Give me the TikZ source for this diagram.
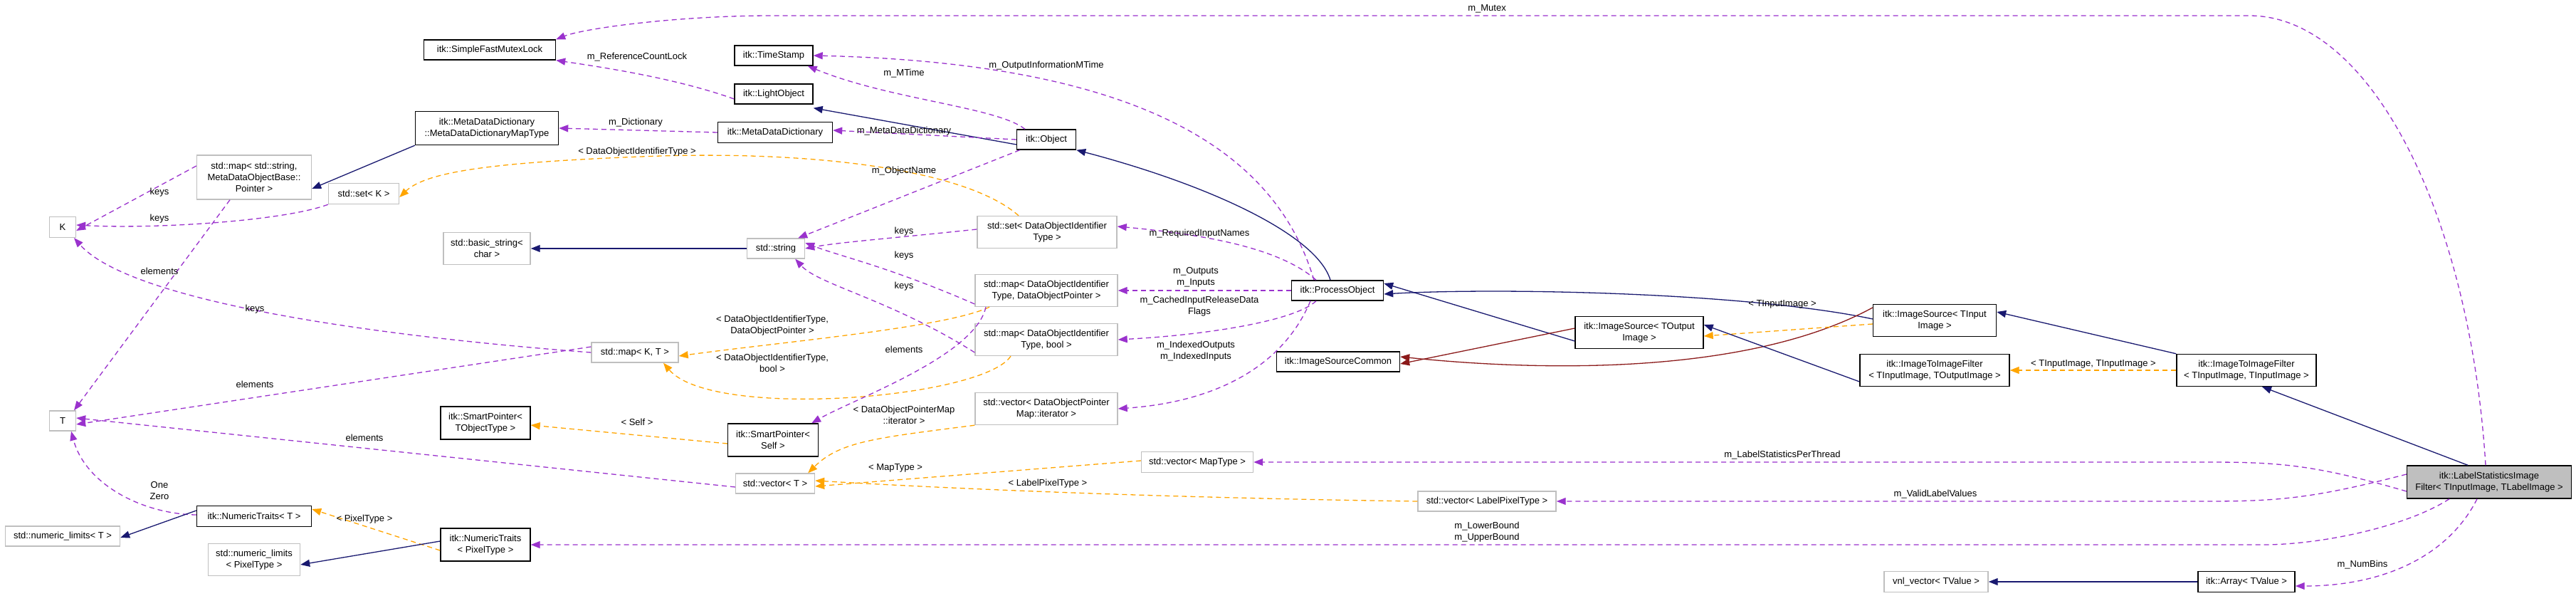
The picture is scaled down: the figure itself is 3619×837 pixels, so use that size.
\documentclass[tikz,border=0pt]{standalone}
\usepackage{fontspec}
\setmainfont{Liberation Sans}
\usetikzlibrary{arrows.meta}
\definecolor{usec}{HTML}{9A32CD}
\definecolor{tmplc}{HTML}{FFA500}
\definecolor{inhc}{HTML}{191970}
\definecolor{protc}{HTML}{8B1A1A}
\definecolor{extc}{HTML}{BFBFBF}
\definecolor{lsfill}{HTML}{BFBFBF}
\begin{document}
\begin{tikzpicture}[x=1pt,y=-1pt,
  base/.style={rectangle,align=center,inner xsep=4pt,inner ysep=2pt,font=\fontsize{13}{16}\selectfont,line width=1.4pt},
  cls/.style={base,draw=black},
  ext/.style={base,draw=extc},
  W/.style 2 args={minimum width=#1pt,minimum height=#2pt},
  lbl/.style={font=\fontsize{13}{16}\selectfont,align=center,inner sep=0pt},
  tip/.style={-{Triangle[length=13pt,width=10pt]}},
  use/.style={tip,draw=usec,line width=1.3pt,dash pattern=on 7pt off 5pt},
  tmpl/.style={tip,draw=tmplc,line width=1.3pt,dash pattern=on 7pt off 5pt},
  inh/.style={tip,draw=inhc,line width=1.3pt},
  prot/.style={tip,draw=protc,line width=1.3pt}]
\useasboundingbox (0,0) rectangle (3619,837);
\fill[white] (0,0) rectangle (3619,837);
% nodes
\node[cls,W={185}{28}] (sfml) at (688,70) {itk::SimpleFastMutexLock};
\node[cls,W={110}{28}] (ts) at (1087,78) {itk::TimeStamp};
\node[cls,W={110}{28}] (lo) at (1087,132) {itk::LightObject};
\node[cls,W={201}{47}] (mdmt) at (684,180) {itk::MetaDataDictionary\\::MetaDataDictionaryMapType};
\node[cls,W={161}{29}] (mdd) at (1089,186) {itk::MetaDataDictionary};
\node[cls,W={83}{28}] (obj) at (1470,196) {itk::Object};
\node[ext,W={161}{62}] (mapstr) at (357,249) {std::map\textless{} std::string,\\MetaDataObjectBase::\\Pointer \textgreater{}};
\node[ext,W={99}{29}] (setk) at (511,272) {std::set\textless{} K \textgreater{}};
\node[ext,W={37}{29}] (k) at (88,319) {K};
\node[ext,W={122}{45}] (bstr) at (684,349) {std::basic\_string\textless{}\\char \textgreater{}};
\node[ext,W={81}{28}] (str) at (1090,349) {std::string};
\node[ext,W={196}{45}] (setd) at (1471,326) {std::set\textless{} DataObjectIdentifier\\Type \textgreater{}};
\node[ext,W={200}{45}] (mapdp) at (1470,408) {std::map\textless{} DataObjectIdentifier\\Type, DataObjectPointer \textgreater{}};
\node[cls,W={129}{28}] (po) at (1879,408) {itk::ProcessObject};
\node[ext,W={200}{45}] (mapdb) at (1470,477) {std::map\textless{} DataObjectIdentifier\\Type, bool \textgreater{}};
\node[ext,W={122}{28}] (mapkt) at (892,495) {std::map\textless{} K, T \textgreater{}};
\node[cls,W={173}{28}] (isc) at (1880,508) {itk::ImageSourceCommon};
\node[cls,W={180}{45}] (iso) at (2303,467) {itk::ImageSource\textless{} TOutput\\Image \textgreater{}};
\node[cls,W={173}{45}] (isi) at (2718,450) {itk::ImageSource\textless{} TInput\\Image \textgreater{}};
\node[cls,W={210}{45}] (i2io) at (2718,520) {itk::ImageToImageFilter\\\textless{} TInputImage, TOutputImage \textgreater{}};
\node[cls,W={196}{45}] (i2ii) at (3156,520) {itk::ImageToImageFilter\\\textless{} TInputImage, TInputImage \textgreater{}};
\node[ext,W={37}{28}] (t) at (88,591) {T};
\node[cls,W={126}{46}] (spto) at (682,594) {itk::SmartPointer\textless{}\\TObjectType \textgreater{}};
\node[cls,W={127}{46}] (spself) at (1086,618) {itk::SmartPointer\textless{}\\Self \textgreater{}};
\node[ext,W={200}{45}] (vecdop) at (1470,574) {std::vector\textless{} DataObjectPointer\\Map::iterator \textgreater{}};
\node[ext,W={111}{28}] (vect) at (1089,679) {std::vector\textless{} T \textgreater{}};
\node[ext,W={157}{29}] (vecmt) at (1682,649) {std::vector\textless{} MapType \textgreater{}};
\node[ext,W={194}{28}] (veclpt) at (2089,704) {std::vector\textless{} LabelPixelType \textgreater{}};
\node[cls,fill=lsfill,W={231}{46}] (ls) at (3497,677) {itk::LabelStatisticsImage\\Filter\textless{} TInputImage, TLabelImage \textgreater{}};
\node[cls,W={161}{29}] (ntt) at (357,725) {itk::NumericTraits\textless{} T \textgreater{}};
\node[ext,W={161}{28}] (nlt) at (88,753) {std::numeric\_limits\textless{} T \textgreater{}};
\node[cls,W={126}{46}] (ntp) at (682,765) {itk::NumericTraits\\\textless{} PixelType \textgreater{}};
\node[ext,W={129}{45}] (nlp) at (357,786) {std::numeric\_limits\\\textless{} PixelType \textgreater{}};
\node[ext,W={146}{29}] (vnl) at (2720,817) {vnl\_vector\textless{} TValue \textgreater{}};
\node[cls,W={136}{29}] (arr) at (3156,817) {itk::Array\textless{} TValue \textgreater{}};
% edges
\draw[use] ([xshift=-5pt]ls.north) .. controls (3470,300) and (3330,22) .. (3160,22) -- (1085,22) .. controls (950,22) and (820,40) .. (sfml.north east);
\node[lbl] (l1) at (2089,12) {m\_Mutex};
\draw[use] ([yshift=-7pt]lo.west) .. controls (950,110) and (850,95) .. (sfml.south east);
\node[lbl] (l2) at (895,80) {m\_ReferenceCountLock};
\draw[use] ([xshift=-30pt]obj.north) .. controls (1400,150) and (1250,140) .. ([xshift=-8pt]ts.south east);
\node[lbl] (l3) at (1270,103) {m\_MTime};
\draw[use] ([xshift=-33pt]po.north) .. controls (1800,240) and (1650,90) .. (ts.east);
\node[lbl] (l4) at (1470,92) {m\_OutputInformationMTime};
\draw[inh] ([yshift=-7pt]obj.west) -- ([yshift=-5pt]lo.south east);
\draw[use] (mdd.west) -- (mdmt.east);
\node[lbl] (l5) at (893,172) {m\_Dictionary};
\draw[use] (obj.west) -- ([yshift=3pt]mdd.east);
\node[lbl] (l6) at (1270,184) {m\_MetaDataDictionary};
\draw[inh] (mdmt.south west) -- ([yshift=-16pt]mapstr.east);
\draw[tmpl] ([xshift=-40pt]setd.north) .. controls (1360,240) and (1150,210) .. (900,220) .. controls (700,228) and (600,240) .. ([yshift=-5pt]setk.east);
\node[lbl] (l7) at (895,213) {\textless{} DataObjectIdentifierType \textgreater{}};
\draw[use] ([xshift=5pt]obj.south west) -- ([xshift=-10pt]str.north east);
\node[lbl] (l8) at (1270,240) {m\_ObjectName};
\draw[inh] ([xshift=-10pt]po.north) .. controls (1850,330) and (1700,260) .. (obj.south east);
\draw[use] ([yshift=16pt]mapstr.west) -- ([yshift=-5pt]k.east);
\node[lbl] (l9) at (224,270) {keys};
\draw[use] (setk.south west) .. controls (400,310) and (220,322) .. ([yshift=3pt]k.east);
\node[lbl] (l10) at (224,307) {keys};
\draw[use] ([xshift=-34pt]mapstr.south) -- ([xshift=16pt]t.north);
\node[lbl] (l11) at (224,381) {elements};
\draw[inh] (str.west) -- (bstr.east);
\draw[use] ([yshift=4pt]setd.west) .. controls (1250,335) and (1180,340) .. (str.east);
\node[lbl] (l12) at (1270,325) {keys};
\draw[use] ([yshift=-19pt]mapdp.west) .. controls (1250,375) and (1180,360) .. ([yshift=8pt]str.east);
\node[lbl] (l13) at (1270,359) {keys};
\draw[use] ([yshift=-18pt]mapdb.west) .. controls (1250,420) and (1150,400) .. ([xshift=-14pt]str.south east);
\node[lbl] (l14) at (1270,402) {keys};
\draw[use] ([xshift=-30pt]po.north) .. controls (1800,350) and (1700,330) .. ([yshift=8pt]setd.east);
\node[lbl] (l15) at (1685,328) {m\_RequiredInputNames};
\draw[use] (po.west) -- (mapdp.east);
\node[lbl] (l16) at (1680,389) {m\_Outputs\\m\_Inputs};
\draw[use] ([xshift=-30pt]po.south) .. controls (1820,450) and (1700,470) .. (mapdb.east);
\node[lbl] (l17) at (1685,430) {m\_CachedInputReleaseData\\Flags};
\draw[use] ([xshift=-38pt]po.south) .. controls (1800,520) and (1700,565) .. (vecdop.east);
\node[lbl] (l18) at (1680,493) {m\_IndexedOutputs\\m\_IndexedInputs};
\draw[use] (mapkt.west) .. controls (500,470) and (180,420) .. ([xshift=16pt]k.south);
\node[lbl] (l19) at (358,434) {keys};
\draw[tmpl] ([xshift=-80pt]mapdp.south) .. controls (1330,460) and (1100,480) .. ([yshift=-5pt]mapkt.east);
\node[lbl] (l20) at (1085,457) {\textless{} DataObjectIdentifierType,\\DataObjectPointer \textgreater{}};
\draw[tmpl] ([xshift=-50pt]mapdb.south) .. controls (1380,560) and (1000,590) .. ([xshift=40pt]mapkt.south);
\node[lbl] (l21) at (1085,510) {\textless{} DataObjectIdentifierType,\\bool \textgreater{}};
\draw[use] ([yshift=8pt]mapkt.west) -- ([yshift=-5pt]t.east);
\node[lbl] (l22) at (358,540) {elements};
\draw[use] ([xshift=-85pt]mapdp.south) .. controls (1370,500) and (1200,560) .. ([xshift=-10pt]spself.north east);
\node[lbl] (l23) at (1270,491) {elements};
\draw[tmpl] ([yshift=-5pt]spself.west) -- ([yshift=-3pt]spto.east);
\node[lbl] (l24) at (895,593) {\textless{} Self \textgreater{}};
\draw[tmpl] (vecdop.south west) .. controls (1230,615) and (1180,620) .. ([xshift=-10pt]vect.north east);
\node[lbl] (l25) at (1270,583) {\textless{} DataObjectPointerMap\\::iterator \textgreater{}};
\draw[use] ([yshift=-5pt]vect.west) -- ([yshift=4pt]t.east);
\node[lbl] (l26) at (512,615) {elements};
\draw[tmpl] ([yshift=2pt]vecmt.west) -- ([yshift=-4pt]vect.east);
\node[lbl] (l27) at (1258,657) {\textless{} MapType \textgreater{}};
\draw[tmpl] (veclpt.west) .. controls (1700,700) and (1400,690) .. ([yshift=4pt]vect.east);
\node[lbl] (l28) at (1472,679) {\textless{} LabelPixelType \textgreater{}};
\draw[use] ([yshift=-13pt]ls.west) .. controls (3250,652) and (3200,649) .. (3100,649) -- (vecmt.east);
\node[lbl] (l29) at (2504,639) {m\_LabelStatisticsPerThread};
\draw[use] ([yshift=11pt]ls.west) .. controls (3250,700) and (3200,704) .. (3100,704) -- (veclpt.east);
\node[lbl] (l30) at (2719,694) {m\_ValidLabelValues};
\draw[use] ([xshift=-56pt]ls.south) .. controls (3380,740) and (3260,765) .. (3180,765) -- (ntp.east);
\node[lbl] (l31) at (2089,747) {m\_LowerBound\\m\_UpperBound};
\draw[use] ([xshift=-17pt]ls.south) .. controls (3440,780) and (3350,823) .. ([yshift=-6pt]arr.east);
\node[lbl] (l32) at (3319,793) {m\_NumBins};
\draw[inh] (arr.west) -- (vnl.east);
\draw[use] ([yshift=2pt]ntt.west) .. controls (200,722) and (120,680) .. ([xshift=12pt]t.south);
\node[lbl] (l33) at (224,689) {One\\Zero};
\draw[inh] ([yshift=8pt]ntt.west) -- ([yshift=-2pt]nlt.east);
\draw[tmpl] ([yshift=-8pt]ntp.west) -- ([yshift=10pt]ntt.east);
\node[lbl] (l34) at (512,729) {\textless{} PixelType \textgreater{}};
\draw[inh] ([yshift=5pt]ntp.west) -- ([yshift=-7pt]nlp.east);
\draw[inh] ([yshift=-12pt]iso.west) -- ([yshift=10pt]po.east);
\draw[inh] ([yshift=2pt]isi.west) .. controls (2450,410) and (2100,404) .. ([yshift=-5pt]po.east);
\draw[prot] ([yshift=6pt]iso.west) -- ([yshift=-3pt]isc.east);
\draw[prot] ([yshift=18pt]isi.west) .. controls (2450,530) and (2150,520) .. ([yshift=7pt]isc.east);
\draw[tmpl] ([yshift=-5pt]isi.west) -- ([yshift=-5pt]iso.east);
\node[lbl] (l35) at (2504,427) {\textless{} TInputImage \textgreater{}};
\draw[inh] ([yshift=-16pt]i2io.west) -- ([yshift=11pt]iso.east);
\draw[inh] (i2ii.north west) -- ([yshift=12pt]isi.east);
\draw[tmpl] (i2ii.west) -- (i2io.east);
\node[lbl] (l36) at (2941,511) {\textless{} TInputImage, TInputImage \textgreater{}};
\draw[inh] ([xshift=-30pt]ls.north) -- ([xshift=22pt]i2ii.south);
\end{tikzpicture}
\end{document}
